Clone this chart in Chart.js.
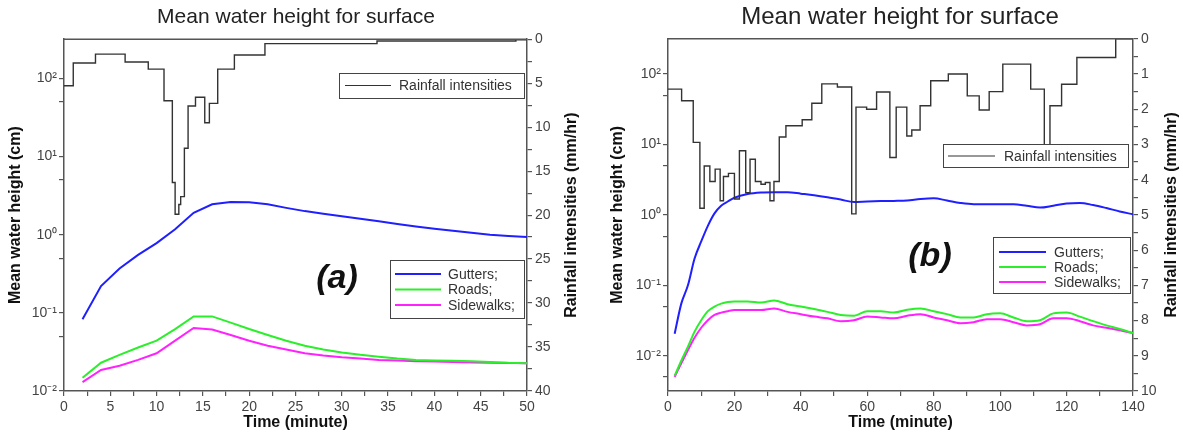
<!DOCTYPE html>
<html>
<head>
<meta charset="utf-8">
<script src="https://cdn.jsdelivr.net/npm/chart.js@4/dist/chart.umd.min.js"></script>
<style>
html, body { margin: 0; padding: 0; background: #fff; overflow: hidden; }
#chartA { position: absolute; left: 0; top: 0; }
#chartB { position: absolute; left: 600px; top: 0; }
</style>
</head>
<body>
<canvas id="chartA" width="592" height="437"></canvas>
<canvas id="chartB" width="600" height="437"></canvas>
<script>
// panel (a) - mean water height, every 2 minutes
const timeA = [2, 4, 6, 8, 10, 12, 14, 16, 18, 20, 22, 24, 26, 28, 30, 32, 34, 36, 38, 40, 42, 44, 46, 48, 50];
const guttersA = [0.083, 0.22, 0.37, 0.55, 0.78, 1.17, 1.9, 2.45, 2.62, 2.6, 2.45, 2.2, 2.0, 1.85, 1.72, 1.6, 1.48, 1.37, 1.27, 1.19, 1.12, 1.06, 1.0, 0.96, 0.93];
const roadsA = [0.0148, 0.023, 0.029, 0.036, 0.044, 0.062, 0.09, 0.09, 0.075, 0.062, 0.052, 0.044, 0.038, 0.034, 0.031, 0.029, 0.0275, 0.026, 0.025, 0.0245, 0.0243, 0.024, 0.0235, 0.0229, 0.0226];
const sidewalksA = [0.013, 0.0186, 0.021, 0.025, 0.0304, 0.044, 0.064, 0.061, 0.052, 0.044, 0.038, 0.034, 0.0305, 0.0285, 0.027, 0.026, 0.025, 0.0245, 0.024, 0.0238, 0.0235, 0.0232, 0.023, 0.0228, 0.0226];
// panel (a) - rainfall steps (start time, intensity)
const rainTimeA = [0, 1.0, 3.4, 6.6, 9.1, 10.8, 11.7, 12.0, 12.4, 12.6, 13.0, 13.4, 14.2, 15.2, 15.7, 16.6, 18.4, 21.7, 33.8, 48.8, 50];
const rainA = [5.3, 2.7, 1.7, 2.6, 3.4, 7.0, 16.3, 19.9, 18.8, 17.9, 12.4, 7.6, 6.6, 9.5, 7.3, 3.4, 1.8, 0.5, 0.2, 0.08, 0.08];

// panel (b)
const timeB = [2, 4, 6, 8, 10, 12, 14, 16, 18, 20, 24, 28, 32, 36, 40, 44, 48, 52, 56, 60, 64, 68, 72, 76, 80, 84, 88, 92, 96, 100, 104, 108, 112, 116, 120, 124, 128, 132, 136, 140];
const guttersB = [0.0205, 0.055, 0.1, 0.24, 0.42, 0.7, 1.05, 1.35, 1.55, 1.75, 1.98, 2.08, 2.1, 2.1, 2.0, 1.9, 1.78, 1.65, 1.52, 1.55, 1.57, 1.58, 1.6, 1.68, 1.72, 1.6, 1.48, 1.42, 1.42, 1.42, 1.42, 1.35, 1.27, 1.35, 1.45, 1.48, 1.38, 1.25, 1.12, 1.02];
const roadsB = [0.0052, 0.0085, 0.0135, 0.022, 0.032, 0.043, 0.05, 0.055, 0.058, 0.059, 0.059, 0.057, 0.061, 0.054, 0.05, 0.046, 0.042, 0.038, 0.037, 0.043, 0.043, 0.041, 0.045, 0.047, 0.043, 0.039, 0.035, 0.035, 0.039, 0.04, 0.035, 0.031, 0.032, 0.04, 0.041, 0.036, 0.031, 0.027, 0.024, 0.021];
const sidewalksB = [0.005, 0.0078, 0.012, 0.018, 0.025, 0.032, 0.038, 0.041, 0.043, 0.0445, 0.0445, 0.0445, 0.047, 0.042, 0.039, 0.036, 0.034, 0.031, 0.032, 0.036, 0.035, 0.034, 0.037, 0.039, 0.035, 0.032, 0.029, 0.03, 0.033, 0.033, 0.03, 0.027, 0.028, 0.034, 0.034, 0.031, 0.027, 0.025, 0.023, 0.021];
const rainTimeB = [0, 4.1, 7.6, 9.6, 10.9, 12.6, 14.2, 15.7, 16.7, 18.2, 20.0, 21.5, 23.4, 24.7, 26.3, 28.0, 29.3, 30.7, 31.9, 33.5, 35.5, 40.4, 43.3, 46.3, 51.0, 55.3, 56.6, 59.8, 62.8, 66.8, 68.7, 71.9, 73.4, 75.9, 79.1, 84.4, 90.1, 93.7, 96.7, 100.8, 109.2, 113.3, 115.0, 118.5, 123.1, 134.8, 140];
const rainB = [1.43, 1.76, 2.94, 4.81, 3.61, 4.05, 3.7, 4.6, 3.91, 3.82, 4.55, 3.18, 4.37, 3.42, 4.05, 4.13, 4.08, 4.6, 4.05, 2.79, 2.47, 2.3, 1.83, 1.28, 1.37, 4.97, 1.94, 2.0, 1.51, 3.37, 1.94, 2.76, 2.59, 1.9, 1.19, 1.0, 1.62, 2.02, 1.5, 0.72, 1.43, 3.3, 1.9, 1.29, 0.53, 0, 0];

// log axis tick labels
const decadeValues = [0.01, 0.1, 1, 10, 100];
const decadeLabels = ['10\u207B\u00B2', '10\u207B\u00B9', '10\u2070', '10\u00B9', '10\u00B2'];
const seriesNames = ['Gutters;', 'Roads;', 'Sidewalks;'];
const seriesColors = ['#1f1fff', '#2bef2b', '#ff22ff'];

const FONT = "'Liberation Sans', Arial, sans-serif";
Chart.defaults.font.family = FONT;
Chart.defaults.color = '#444';

function pts(xs, ys) {
    return xs.map((x, i) => ({x: x, y: ys[i]}));
}

// axis titles, frame, legends and panel tag
const decor = {
    id: 'decor',
    afterDatasetsDraw(chart, args, o) {
        const ctx = chart.ctx;
        const a = chart.chartArea;
        ctx.save();
        ctx.strokeStyle = '#555';
        ctx.lineWidth = 1.5;
        ctx.beginPath();
        ctx.moveTo(a.left, a.top);
        ctx.lineTo(a.right, a.top);
        ctx.stroke();

        // legends
        o.legends.forEach(lg => {
            ctx.fillStyle = '#fff';
            ctx.fillRect(lg.x, lg.y, lg.w, lg.h);
            ctx.strokeStyle = '#444';
            ctx.lineWidth = 1;
            ctx.strokeRect(lg.x + 0.5, lg.y + 0.5, lg.w, lg.h);
            lg.items.forEach((it, i) => {
                const yy = lg.y0 + i * lg.dy;
                ctx.strokeStyle = it.color;
                ctx.lineWidth = it.width;
                ctx.beginPath();
                ctx.moveTo(lg.x + lg.lx0, yy);
                ctx.lineTo(lg.x + lg.lx1, yy);
                ctx.stroke();
                ctx.fillStyle = '#333';
                ctx.font = '14px ' + FONT;
                ctx.textAlign = 'left';
                ctx.textBaseline = 'middle';
                ctx.fillText(it.text, lg.x + lg.tx, yy + 1);
            });
        });

        // panel tag
        ctx.fillStyle = '#111';
        ctx.font = 'italic bold 34px ' + FONT;
        ctx.textAlign = 'center';
        ctx.textBaseline = 'middle';
        ctx.fillText(o.tag, o.tagX, o.tagY);

        // vertical axis titles
        ctx.font = 'bold 16px ' + FONT;
        ctx.fillStyle = '#111';
        const cy = (a.top + a.bottom) / 2;
        [[o.leftX, 'Mean water height (cm)'], [o.rightX, 'Rainfall intensities (mm/hr)']].forEach(([x, t]) => {
            ctx.save();
            ctx.translate(x, cy);
            ctx.rotate(-Math.PI / 2);
            ctx.fillText(t, 0, 0);
            ctx.restore();
        });
        ctx.restore();
    }
};

function buildChart(id, o) {
    const lineSet = (name, ys, i) => ({
        label: name,
        data: pts(o.t, ys),
        yAxisID: 'y',
        borderColor: seriesColors[i],
        borderWidth: 2,
        pointRadius: 0,
        cubicInterpolationMode: o.smooth ? 'monotone' : 'default'
    });
    const axisGrid = {drawOnChartArea: false, tickLength: 5, color: '#555', lineWidth: 1.2};
    const axisBorder = {color: '#555', width: 1.5};
    return new Chart(id, {
        type: 'line',
        data: {
            datasets: [
                {
                    label: 'Rainfall intensities',
                    data: pts(o.rainT, o.rain),
                    yAxisID: 'y2',
                    stepped: true,
                    borderColor: '#333',
                    borderWidth: 1.4,
                    pointRadius: 0
                },
                lineSet(seriesNames[0], o.g, 0),
                lineSet(seriesNames[1], o.r, 1),
                lineSet(seriesNames[2], o.s, 2)
            ]
        },
        options: {
            responsive: false,
            animation: false,
            layout: {padding: 0},
            plugins: {
                legend: {display: false},
                tooltip: {enabled: false},
                title: {
                    display: true,
                    text: 'Mean water height for surface',
                    color: '#222',
                    font: {size: o.titleSize, weight: 'normal'},
                    padding: o.titlePad
                },
                decor: o.decor
            },
            scales: {
                x: {
                    type: 'linear',
                    min: 0,
                    max: o.xMax,
                    grid: axisGrid,
                    border: axisBorder,
                    ticks: {
                        stepSize: o.xMinor,
                        autoSkip: false,
                        maxRotation: 0,
                        padding: 3,
                        color: '#444',
                        font: {size: 14},
                        callback: v => (v % o.xStep === 0 ? v : '')
                    },
                    title: {
                        display: true,
                        text: 'Time (minute)',
                        color: '#111',
                        font: {size: 16, weight: 'bold'},
                        padding: {top: 0, bottom: 5}
                    },
                    afterFit: s => { s.height = 46; }
                },
                y: {
                    type: 'logarithmic',
                    position: 'left',
                    min: o.logMin,
                    max: o.logMax,
                    grid: axisGrid,
                    border: axisBorder,
                    afterBuildTicks: s => { s.ticks = o.logTicks.map(v => ({value: v})); },
                    ticks: {
                        autoSkip: false,
                        padding: 2,
                        color: '#444',
                        font: {size: 14},
                        callback: v => {
                            const i = decadeValues.findIndex(d => Math.abs(d - v) / d < 1e-6);
                            return i >= 0 ? decadeLabels[i] : '';
                        }
                    },
                    afterFit: s => { s.width = o.leftW; }
                },
                y2: {
                    type: 'linear',
                    position: 'right',
                    reverse: true,
                    min: 0,
                    max: o.rMax,
                    grid: axisGrid,
                    border: axisBorder,
                    ticks: {
                        stepSize: o.rMinor,
                        autoSkip: false,
                        padding: 3,
                        color: '#444',
                        font: {size: 14},
                        callback: v => (Math.abs(v % o.rStep) < 1e-9 ? v : '')
                    },
                    afterFit: s => { s.width = o.rightW; }
                }
            }
        },
        plugins: [decor]
    });
}

const seriesItems = () => seriesNames.map((n, i) => ({text: n, color: seriesColors[i], width: 2}));

buildChart('chartA', {
    t: timeA, g: guttersA, r: roadsA, s: sidewalksA,
    rainT: rainTimeA, rain: rainA,
    smooth: false,
    xMax: 50, xStep: 5, xMinor: 2.5,
    rMax: 40, rStep: 5, rMinor: 2.5,
    logMin: 0.01, logMax: Math.pow(10, 2.5),
    logTicks: [0.01, 0.05, 0.1, 0.5, 1, 5, 10, 50, 100],
    leftW: 64, rightW: 65,
    titleSize: 21, titlePad: {top: 5, bottom: 9},
    decor: {
        tag: '(a)', tagX: 337, tagY: 279,
        leftX: 16, rightX: 572,
        legends: [
            {x: 339, y: 73, w: 185, h: 25, lx0: 6, lx1: 52, tx: 60, y0: 85.5, dy: 0,
             items: [{text: 'Rainfall intensities', color: '#333', width: 1.2}]},
            {x: 390, y: 260, w: 134, h: 58, lx0: 5, lx1: 51, tx: 58, y0: 274, dy: 15.5,
             items: seriesItems()}
        ]
    }
});

buildChart('chartB', {
    t: timeB, g: guttersB, r: roadsB, s: sidewalksB,
    rainT: rainTimeB, rain: rainB,
    smooth: true,
    xMax: 140, xStep: 20, xMinor: 10,
    rMax: 10, rStep: 1, rMinor: 0.5,
    logMin: Math.pow(10, -2.5), logMax: Math.pow(10, 2.5),
    logTicks: [0.005, 0.01, 0.05, 0.1, 0.5, 1, 5, 10, 50, 100],
    leftW: 68, rightW: 67,
    titleSize: 24, titlePad: {top: 3, bottom: 7},
    decor: {
        tag: '(b)', tagX: 330, tagY: 257,
        leftX: 18, rightX: 572,
        legends: [
            {x: 343, y: 144, w: 185, h: 23, lx0: 5, lx1: 52, tx: 61, y0: 156, dy: 0,
             items: [{text: 'Rainfall intensities', color: '#333', width: 1.2}]},
            {x: 393, y: 237, w: 137, h: 56, lx0: 6, lx1: 53, tx: 61, y0: 252, dy: 15,
             items: seriesItems()}
        ]
    }
});
</script>
</body>
</html>
